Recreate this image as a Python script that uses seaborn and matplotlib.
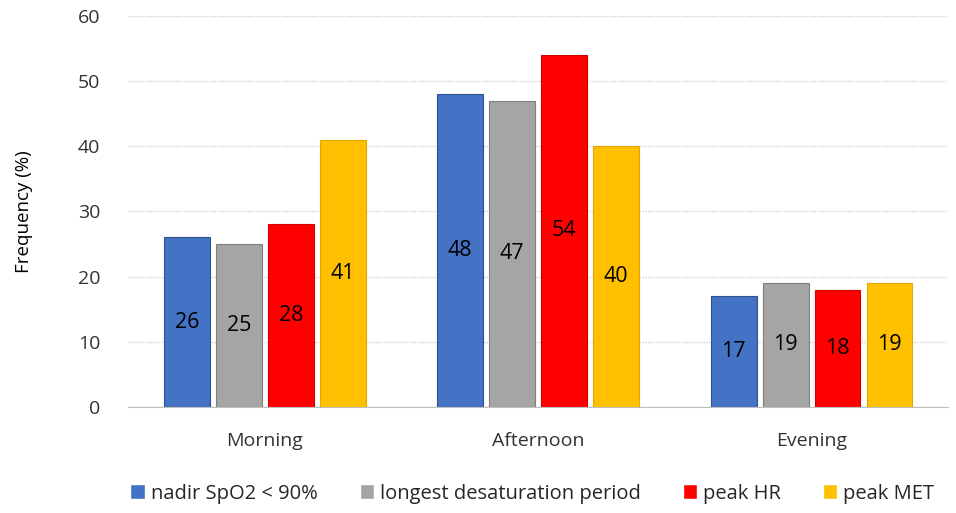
import numpy as np
import pandas as pd
import matplotlib
matplotlib.use('Agg')
import matplotlib.pyplot as plt
import seaborn as sns

# data
periods = ['Morning', 'Afternoon', 'Evening']
series = ['nadir SpO2 < 90%', 'longest desaturation period', 'peak HR', 'peak MET']
nadir_spo2 = [26, 48, 17]
longest_desat = [25, 47, 19]
peak_hr = [28, 54, 18]
peak_met = [41, 40, 19]

colors = ['#4472C4', '#A5A5A5', '#FF0000', '#FFC000']
edges = ['#2F528F', '#7F7F7F', '#D00000', '#E0A800']

df = pd.DataFrame({
    'Period': periods * 4,
    'Series': np.repeat(series, 3),
    'Value': nadir_spo2 + longest_desat + peak_hr + peak_met,
})

sns.set_style('white')
plt.rcParams['font.family'] = ['Open Sans', 'DejaVu Sans']

fig = plt.figure(figsize=(9.56, 5.13), dpi=100)
ax = fig.add_axes([0.134, 0.207, 0.858, 0.762])

sns.barplot(data=df, x='Period', y='Value', hue='Series', order=periods,
            hue_order=series, palette=colors, width=0.76, gap=0.12,
            saturation=1, ax=ax, legend=True)

# bar edges and centred labels
for cont, ec in zip(ax.containers, edges):
    for bar in cont:
        bar.set_edgecolor(ec)
        bar.set_linewidth(0.8)
    ax.bar_label(cont, label_type='center', fontsize=15.5, color='black')

ax.set_ylim(0, 60)
ax.set_yticks(range(0, 61, 10))
ax.yaxis.grid(True, color='#D0D0D0', linewidth=1, linestyle=(0, (1, 1)))
ax.set_axisbelow(True)
for s in ['top', 'right', 'left']:
    ax.spines[s].set_visible(False)
ax.spines['bottom'].set_color('#BFBFBF')
ax.tick_params(axis='both', length=0, labelsize=14, colors='#333333')
ax.tick_params(axis='y', pad=20)
ax.tick_params(axis='x', pad=18)
ax.set_xlabel('')
ax.set_ylabel('Frequency (%)', fontsize=13.5, color='black', labelpad=32)

ax.legend(loc='upper center', bbox_to_anchor=(0.493, -0.15), ncol=4, frameon=False,
          fontsize=14.5, handlelength=0.7, handleheight=0.7, handletextpad=0.3,
          columnspacing=2.1, title=None)

fig.savefig('out.png', dpi=100)
